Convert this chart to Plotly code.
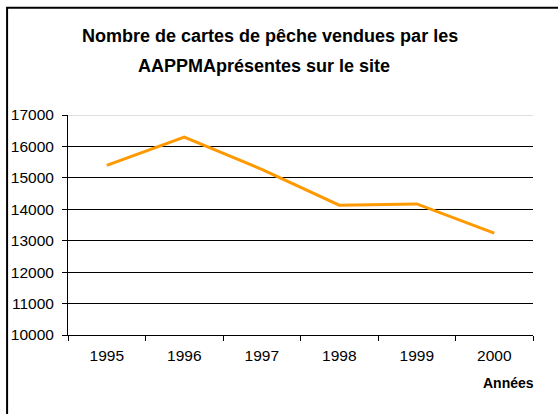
import plotly.graph_objects as go

years = ["1995", "1996", "1997", "1998", "1999", "2000"]
cartes = [15400, 16300, 15270, 14130, 14170, 13240]
y_ticks = [10000, 11000, 12000, 13000, 14000, 15000, 16000, 17000]
title_lines = ["Nombre de cartes de pêche vendues par les", "AAPPMAprésentes sur le site"]

fig = go.Figure()
fig.add_trace(go.Scatter(x=years, y=cartes, mode="lines",
                         line=dict(color="#FF9900", width=3), showlegend=False))

font = "Liberation Sans, Arial, sans-serif"
fig.update_layout(
    width=558, height=414,
    margin=dict(l=68, r=25, t=115, b=79),
    paper_bgcolor="white", plot_bgcolor="white",
    font=dict(family=font, color="black", size=15),
    xaxis=dict(type="category", range=[-0.5, 5.5], tickson="boundaries", ticks="outside", ticklen=5,
               tickcolor="black", showline=True, linecolor="black", linewidth=1, automargin=False,
               showgrid=False, tickfont=dict(size=15.5), ticklabelstandoff=6),
    yaxis=dict(range=[10000, 17000], tickvals=y_ticks, ticktext=[str(v) for v in y_ticks],
               ticks="outside", ticklen=5, automargin=False,
               tickcolor="black", showline=True, linecolor="black", linewidth=1,
               showgrid=True, gridcolor="black", gridwidth=1, zeroline=False,
               tickfont=dict(size=15.5), ticklabelstandoff=5),
    shapes=[
        dict(type="line", xref="paper", yref="y", x0=0, x1=1, y0=17000, y1=17000,
             line=dict(color="#c0c0c0", width=1), layer="above"),
        dict(type="rect", xref="paper", yref="paper", x0=-0.131, x1=1.056, y0=-0.4, y1=1.487,
             line=dict(color="black", width=2), fillcolor="rgba(0,0,0,0)"),
    ],
    annotations=[
        dict(text="<b>" + title_lines[0] + "</b>", xref="paper", yref="paper", x=(270 - 68) / 465,
             y=(335 - 36) / 220, xanchor="center", yanchor="middle", showarrow=False,
             font=dict(size=18, family=font, color="black")),
        dict(text="<b>" + title_lines[1] + "</b>", xref="paper", yref="paper", x=(264 - 68) / 465,
             y=(335 - 66) / 220, xanchor="center", yanchor="middle", showarrow=False,
             font=dict(size=18, family=font, color="black")),
        dict(text="<b>Années</b>", xref="paper", yref="paper", x=(536 - 68) / 465, y=(335 - 383) / 220,
             xanchor="right", yanchor="middle", showarrow=False,
             font=dict(size=14, family=font, color="black")),
    ],
)
fig.write_html("out.html", config={"displayModeBar": False},
               post_script="document.body.style.margin='0';")
